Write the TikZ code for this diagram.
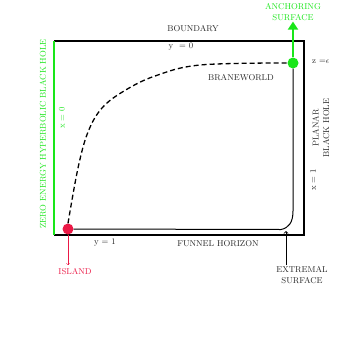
\documentclass[tikz,border=0pt]{standalone}
\usepackage{tikz}
\usetikzlibrary{arrows,arrows.meta,shapes,positioning,calc}
\definecolor{brightgreen}{RGB}{25,230,25}
\definecolor{islandred}{RGB}{235,25,70}

\begin{document}
\begin{tikzpicture}[
    x=1pt,y=-1pt,
    tag/.style={font=\fontsize{8.5}{10.5}\selectfont,text=black!85,align=center,inner sep=1pt},
    greentag/.style={tag,text=brightgreen},
    redtag/.style={tag,text=islandred},
    dot/.style={circle,inner sep=0pt,minimum size=11pt},
    frame/.style={line width=1.2pt},
    brane/.style={line width=1.3pt,dash pattern=on 5pt off 3pt},
    arrow/.style={->,>=to}
]
    \useasboundingbox (0,0) rectangle (354,354);

    % outer box
    \coordinate (tl) at (54,41);
    \coordinate (tr) at (304,41);
    \coordinate (br) at (304,235);
    \coordinate (bl) at (54,235);
    \draw[frame] (tl) -- (tr) -- (br) -- (bl);
    \draw[frame,brightgreen] (tl) -- (bl);

    \node[dot,fill=brightgreen] (anchor) at (293,63) {};
    \node[dot,fill=islandred] (island) at (68,229) {};

    % extremal surface
    \draw[line width=1pt] (island.east) -- (281,229.5)
        .. controls (289,228) and (293,222) .. (293,211) -- (anchor.south);

    % braneworld
    \draw[brane] plot[smooth,tension=0.6] coordinates
        {(island.north) (78,168) (88,132) (102,108) (124,91) (155,76) (200,65) (anchor.west)};

    \node[tag] (boundary) at (193,29) {BOUNDARY};
    \node[tag] (yzero) at (181,47) {y\ \ = 0};
    \node[tag,anchor=west] (zeps) at (311,62) {z =$\epsilon$};
    \node[tag] (braneworld) at (241,78) {BRANEWORLD};
    \node[tag,rotate=90] (planar) at (321,128) {PLANAR\\BLACK HOLE};
    \node[tag,rotate=90] (xone) at (313,180) {x = 1};
    \node[greentag,rotate=90] (zeroenergy) at (43,134) {ZERO ENERGY HYPERBOLIC BLACK HOLE};
    \node[greentag,rotate=90] (xzero) at (62,118) {x = 0};
    \node[tag] (yone) at (105,243) {y = 1};
    \node[tag] (funnel) at (218,244) {FUNNEL HORIZON};

    \node[greentag] (anchoring) at (293,12) {ANCHORING\\SURFACE};
    \draw[-{Triangle[length=8pt,width=10pt]},line width=2.8pt,brightgreen] (anchor.north) -- (anchoring.south);

    \node[redtag] (islandtag) at (75,272) {ISLAND};
    \coordinate (islandend) at (68,265);
    \draw[arrow,islandred,thin] (island.south) -- (islandend);

    \node[tag] (extremal) at (302,275) {EXTREMAL\\SURFACE};
    \coordinate (extremaltip) at (286,231);
    \draw[arrow,line width=0.8pt] (extremal.north -| extremaltip) -- (extremaltip);
\end{tikzpicture}
\end{document}
